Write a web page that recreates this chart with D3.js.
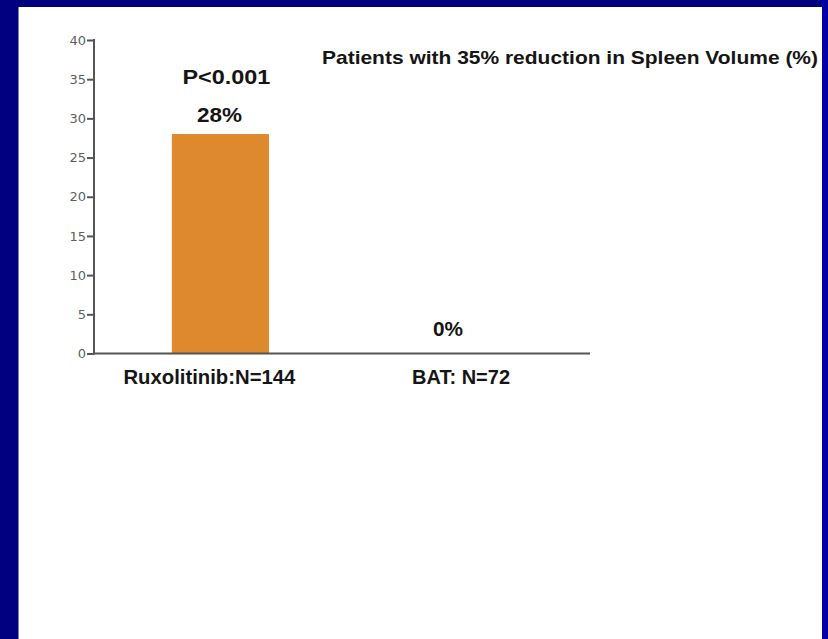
<!DOCTYPE html>
<html>
<head>
<meta charset="utf-8">
<script src="https://cdn.jsdelivr.net/npm/d3@7"></script>
<style>
  html, body { margin: 0; padding: 0; background: #000080; }
  svg { display: block; }
  .lbl { font-family: "Liberation Sans", Arial, sans-serif; font-weight: bold; fill: #151515; }
  .tick text { font-family: "DejaVu Sans", sans-serif; fill: #5f5f5f; font-size: 13px; }
</style>
</head>
<body>
<script>
// Chart data
const categories = ["Ruxolitinib:N=144", "BAT: N=72"];
const responders = [28, 0];
const valueLabels = ["28%", "0%"];
const yTicks = [0, 5, 10, 15, 20, 25, 30, 35, 40];
const title = "Patients with 35% reduction in Spleen Volume (%)";
const pValue = "P<0.001";

const W = 828, H = 639;
const svg = d3.select("body").append("svg").attr("width", W).attr("height", H);

// Slide frame: navy background, white content panel, brighter right edge
svg.append("rect").attr("width", W).attr("height", H).attr("fill", "#000080");
svg.append("rect").attr("x", 822).attr("y", 0).attr("width", 6).attr("height", H).attr("fill", "#0000A6");
svg.append("rect").attr("x", 18.5).attr("y", 7).attr("width", 822 - 18.5).attr("height", H - 7).attr("fill", "#ffffff");

const axisX0 = 94, axisX1 = 590;
const y = d3.scaleLinear().domain([0, 40]).range([353.5, 40]);
const x = d3.scaleBand().domain(categories).range([axisX0, axisX1])
  .paddingInner(0.586).paddingOuter(0.35).align(0.474);

// Bars
svg.selectAll("rect.bar").data(categories).enter().append("rect")
  .attr("class", "bar")
  .attr("x", d => x(d))
  .attr("width", x.bandwidth())
  .attr("y", (d, i) => y(responders[i]))
  .attr("height", (d, i) => y(0) - y(responders[i]))
  .attr("fill", "#DF892E");

// Y axis
const yAxis = svg.append("g").attr("transform", `translate(${axisX0},0)`)
  .call(d3.axisLeft(y).tickValues(yTicks).tickSize(7).tickPadding(1));
yAxis.select(".domain").remove();
yAxis.selectAll(".tick line").attr("stroke", "#555").attr("stroke-width", 2);
yAxis.append("line").attr("x1", 0).attr("x2", 0).attr("y1", y(40) - 1).attr("y2", y(0) + 1)
  .attr("stroke", "#555").attr("stroke-width", 2);

// X baseline
svg.append("line").attr("x1", axisX0).attr("x2", axisX1).attr("y1", y(0)).attr("y2", y(0))
  .attr("stroke", "#555").attr("stroke-width", 2);

// Category labels
const catShift = [-11, 6];
const catWidth = [172, 98];
svg.selectAll("text.cat").data(categories).enter().append("text")
  .attr("class", "lbl cat")
  .attr("x", (d, i) => x(d) + x.bandwidth() / 2 + catShift[i])
  .attr("y", 384)
  .attr("text-anchor", "middle")
  .attr("font-size", 19.5)
  .attr("textLength", (d, i) => catWidth[i]).attr("lengthAdjust", "spacingAndGlyphs")
  .text(d => d);

// Value labels above bars
const valShift = [-1, -7];
const valWidth = [45, 30];
svg.selectAll("text.val").data(categories).enter().append("text")
  .attr("class", "lbl val")
  .attr("x", (d, i) => x(d) + x.bandwidth() / 2 + valShift[i])
  .attr("y", (d, i) => y(responders[i]) - (i === 0 ? 12 : 18))
  .attr("text-anchor", "middle")
  .attr("font-size", 19.5)
  .attr("textLength", (d, i) => valWidth[i]).attr("lengthAdjust", "spacingAndGlyphs")
  .text((d, i) => valueLabels[i]);

// Significance
svg.append("text").attr("class", "lbl")
  .attr("x", x(categories[0]) + x.bandwidth() / 2 + 6).attr("y", 84)
  .attr("text-anchor", "middle").attr("font-size", 19.5)
  .attr("textLength", 88).attr("lengthAdjust", "spacingAndGlyphs")
  .text(pValue);

// Title
svg.append("text").attr("class", "lbl")
  .attr("x", 322).attr("y", 64)
  .attr("font-size", 19)
  .attr("textLength", 496).attr("lengthAdjust", "spacingAndGlyphs")
  .text(title);
</script>
</body>
</html>
